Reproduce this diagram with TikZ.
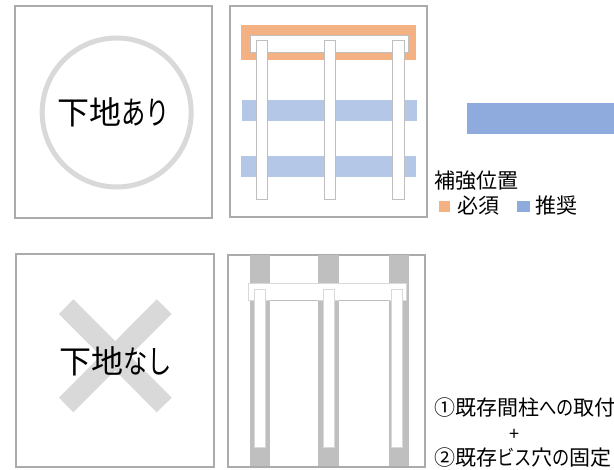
\documentclass[tikz,border=0pt]{standalone}
\usepackage{fontspec}
\usepackage{graphicx}
\setmainfont{Noto Sans CJK JP}
\newcommand{\kn}[1]{\scalebox{0.76}[1]{#1}}
\newcommand{\kns}[1]{\scalebox{0.82}[1]{#1}}
\definecolor{framegray}{HTML}{ABABAB}
\definecolor{lightgray2}{HTML}{D9D9D9}
\definecolor{midgray}{HTML}{BFBFBF}
\definecolor{orangebar}{HTML}{F4B183}
\definecolor{bluebar}{HTML}{B4C7E7}
\definecolor{bluedark}{HTML}{8FAADC}
\tikzset{
  panel/.style={draw=framegray,line width=2pt,fill=white},
  orangeband/.style={fill=orangebar},
  blueband/.style={fill=bluebar},
  post/.style={draw=midgray,line width=1pt,fill=white},
  postlight/.style={draw=lightgray2,line width=1pt,fill=white},
  beam/.style={draw=midgray,line width=1pt,fill=white},
  beamlight/.style={draw=lightgray2,line width=1pt,fill=white},
  stud/.style={fill=midgray},
  crossmark/.style={fill=lightgray2},
  big/.style={inner sep=0pt,anchor=base,font=\fontsize{32}{32}\selectfont,text=black},
  note/.style={inner sep=0pt,anchor=base west,font=\fontsize{21}{21}\selectfont,text=black}
}
\begin{document}
\begin{tikzpicture}[x=1pt,y=-1pt]
\useasboundingbox (0,0) rectangle (614,470);
\fill[white] (0,0) rectangle (614,470);
% top left
\draw[panel] (15,6) rectangle (212,218);
\draw[draw=lightgray2,line width=5pt] (116.7,112.5) circle[radius=74.5];
\node[big] (ari) at (114,125) {下地\kn{あり}};
% top middle
\draw[panel] (230,6) rectangle (426.7,217);
\fill[orangeband] (241,25) rectangle (416,60);
\draw[beam] (250,35.7) rectangle (408.7,52.3);
\fill[blueband] (242,100) rectangle (417,120.7);
\fill[blueband] (241,156) rectangle (416,176.7);
\draw[post] (256,40.7) rectangle (267.3,200);
\draw[post] (324.3,40.7) rectangle (335.7,200);
\draw[post] (392.7,40.7) rectangle (404,200);
% blue bar
\fill[bluedark] (467,103) rectangle (614,133.7);
% legend
\node[note] (hokyo) at (434,189) {補強位置};
\fill[orangebar] (439,201) rectangle (450,212);
\node[note] (hissu) at (457,213.5) {必須};
\fill[bluedark] (517,201) rectangle (530,212);
\node[note] (suisho) at (535,213.5) {推奨};
% bottom left
\draw[panel] (15.7,254.3) rectangle (214,466.7);
\fill[crossmark] (73.3,299.3) -- (171.7,397.7) -- (156.7,412.3) -- (59,314) -- cycle;
\fill[crossmark] (156.7,299.3) -- (171.7,314) -- (73.3,412.3) -- (59,397.7) -- cycle;
\node[big] (nashi) at (115.5,374) {下地\kn{なし}};
% bottom middle
\draw[panel] (228.3,255) rectangle (425,466.7);
\fill[stud] (250,255) rectangle (270,466);
\fill[stud] (318,255) rectangle (339,466);
\fill[stud] (389,255) rectangle (409,466);
\draw[beamlight] (248.3,284) rectangle (406,301);
\draw[draw=midgray,line width=1pt] (270,301) -- (318,301) (339,301) -- (389,301);
\draw[postlight] (254.7,289.3) rectangle (265.7,447.7);
\draw[postlight] (323,289.3) rectangle (334.3,447.7);
\draw[postlight] (391.3,289.3) rectangle (402.7,447.7);
% notes
\node[note] (n1) at (434,415.5) {①既存間柱\kns{への}取付};
\node[inner sep=0pt,font=\fontsize{18}{18}\selectfont] (plus) at (514,435) {+};
\node[note] (n2) at (434,466) {②既存\kns{ビス}穴\kns{の}固定};
\end{tikzpicture}
\end{document}
